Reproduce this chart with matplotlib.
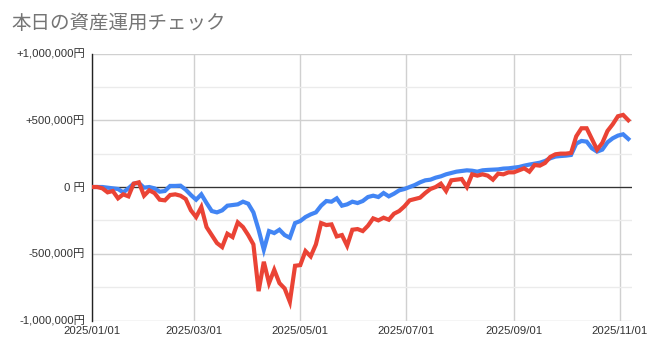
import matplotlib
matplotlib.use("Agg")
import matplotlib.pyplot as plt
import matplotlib.dates as mdates
import pandas as pd

plt.rcParams['font.family'] = ['Liberation Sans', 'Noto Sans CJK JP', 'DejaVu Sans']

# chart data (in thousand yen), one value every 3 days from 2025/01/01
title = "本日の資産運用チェック"
start_date = "2025-01-01"
step = "3D"

blue_vals = [0, 0, 0, -5, -10, -15, -40, -10, 25, 30,
             -5, 0, -10, -35, -30, 8, 8, 10, -20, -60,
             -95, -55, -120, -180, -190, -175, -140, -135, -130, -110,
             -125, -190, -320, -470, -330, -345, -320, -360, -380, -270,
             -255, -225, -205, -190, -140, -105, -110, -85, -140, -130,
             -110, -120, -105, -75, -65, -75, -45, -70, -50, -25,
             -15, 0, 15, 35, 50, 55, 70, 80, 95, 105,
             115, 120, 125, 122, 115, 125, 128, 130, 132, 138,
             140, 145, 150, 160, 168, 175, 182, 195, 215, 228,
             232, 235, 240, 325, 345, 340, 290, 265, 280, 335,
             365, 385, 395, 360]

red_vals = [0, 0, -10, -40, -30, -85, -55, -70, 25, 35,
            -65, -25, -45, -95, -100, -60, -55, -65, -90, -175,
            -225, -150, -300, -360, -420, -450, -350, -375, -265, -300,
            -360, -430, -780, -560, -720, -620, -720, -760, -860, -590,
            -585, -480, -520, -430, -270, -285, -280, -370, -360, -440,
            -320, -315, -330, -290, -235, -250, -230, -245, -200, -180,
            -145, -100, -90, -80, -45, -15, 0, 25, -30, 50,
            55, 60, 0, 95, 85, 95, 85, 55, 100, 95,
            110, 110, 125, 140, 115, 165, 160, 180, 225, 245,
            250, 250, 255, 380, 440, 440, 360, 280, 330, 420,
            470, 530, 540, 500]

y_ticks = [1000000, 500000, 0, -500000, -1000000]
y_labels = ["+1,000,000円", "+500,000円", "0 円", "-500,000円", "-1,000,000円"]
x_ticks = ["2025-01-01", "2025-03-01", "2025-05-01", "2025-07-01", "2025-09-01", "2025-11-01"]

dates = pd.date_range(start_date, periods=len(blue_vals), freq=step)
blue = [v * 1000 for v in blue_vals]
red = [v * 1000 for v in red_vals]

fig = plt.figure(figsize=(6.5, 3.56), dpi=100)
ax = fig.add_axes([0.1415, 0.0997, 0.8305, 0.75])

# blue first, red drawn on top
ax.plot(dates, blue, color='#4285F4', lw=3.0, solid_joinstyle='miter', zorder=3)
ax.plot(dates, red, color='#EA4335', lw=3.0, solid_joinstyle='miter', zorder=4)

ax.set_ylim(-1000000, 1000000)
ax.set_xlim(pd.Timestamp("2025-01-01"), pd.Timestamp("2025-11-08"))

ax.set_yticks(y_ticks)
ax.set_yticklabels(y_labels)
ax.set_yticks([750000, 250000, -250000, -750000], minor=True)
ax.set_xticks([pd.Timestamp(d) for d in x_ticks])
ax.xaxis.set_major_formatter(mdates.DateFormatter('%Y/%m/%d'))

ax.grid(True, which='major', color='#d0d0d0', lw=1.0, zorder=0)
ax.grid(True, which='minor', axis='y', color='#ebebeb', lw=1.0, zorder=0)
ax.axhline(0, color='#333333', lw=0.9, zorder=2)

ax.tick_params(axis='both', which='both', length=0, labelsize=8.2, colors='#333333')
ax.tick_params(axis='y', pad=5)
ax.tick_params(axis='x', pad=4)

for s in ['top', 'right', 'bottom']:
    ax.spines[s].set_visible(False)
ax.spines['left'].set_color('#222222')
ax.spines['left'].set_linewidth(1.0)

fig.text(0.018, 0.933, title, fontsize=14, color='#757575', ha='left', va='center',
         family=['Noto Sans CJK JP', 'DejaVu Sans'])

fig.savefig("out.png", dpi=100)
